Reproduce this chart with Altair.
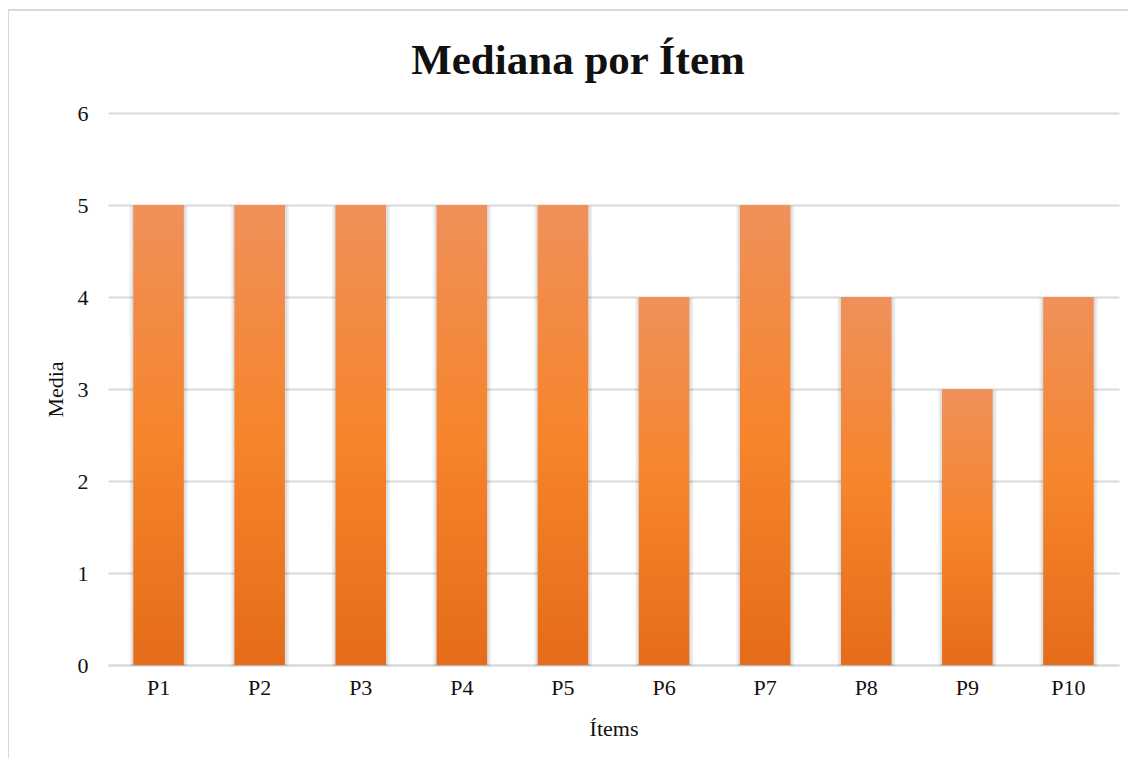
import altair as alt
import pandas as pd

title_text = "Mediana por Ítem"
items = ["P1", "P2", "P3", "P4", "P5", "P6", "P7", "P8", "P9", "P10"]
medians = [5, 5, 5, 5, 5, 4, 5, 4, 3, 4]
y_ticks = [0, 1, 2, 3, 4, 5, 6]

df = pd.DataFrame({"item": items, "mediana": medians})

W, H = 1011, 552
FONT = "Liberation Serif"

grad = alt.Gradient(
    gradient="linear", x1=0, y1=0, x2=0, y2=1,
    stops=[
        alt.GradientStop(offset=0, color="#F0905A"),
        alt.GradientStop(offset=0.5, color="#F6852C"),
        alt.GradientStop(offset=1, color="#E56C1A"),
    ],
)

x_enc = alt.X("item:N", sort=items, title="Ítems",
              scale=alt.Scale(paddingInner=0.5, paddingOuter=0.25),
              axis=alt.Axis(labelAngle=0, ticks=False, domainColor="#d9d9d9",
                            domainWidth=2, labelPadding=12, titlePadding=20))
y_enc = alt.Y("mediana:Q", title="Media",
              scale=alt.Scale(domain=[0, 6]),
              axis=alt.Axis(values=y_ticks, ticks=False, domain=False,
                            gridColor="#d9d9d9", gridWidth=2, labelPadding=20,
                            titlePadding=10))

shadow_l = alt.Chart(df).mark_bar(color="#000000", opacity=0.06, xOffset=-1, yOffset=1,
                                   size=56).encode(x=x_enc, y=y_enc)
shadow = alt.Chart(df).mark_bar(color="#000000", opacity=0.08, xOffset=1, yOffset=1,
                                 size=56).encode(x=x_enc, y=y_enc)
bars = alt.Chart(df).mark_bar(color=grad).encode(x=x_enc, y=y_enc)

border = alt.Chart(df).mark_rect(fill=None, stroke="#d9d9d9", strokeWidth=2).encode(
    x=alt.value(-100), x2=alt.value(1060), y=alt.value(-103), y2=alt.value(700)
)

title = alt.Chart(pd.DataFrame({"t": [title_text]})).mark_text(
    font=FONT, fontSize=43, fontWeight="bold", color="#111111",
    align="center", baseline="middle"
).encode(text="t:N", x=alt.value(470), y=alt.value(-52))

chart = (
    alt.layer(border, shadow_l, shadow, bars, title)
    .properties(
        width=W, height=H,
        padding={"left": 100, "top": 105, "right": 9, "bottom": 93},
        autosize=alt.AutoSizeParams(type="none"),
        background="white",
    )
    .configure_view(stroke=None)
    .configure_axis(labelFont=FONT, titleFont=FONT, labelFontSize=22, titleFontSize=22,
                    labelColor="#111111", titleColor="#111111", titleFontWeight="normal")
)

chart.save("out.html", embed_options={"renderer": "svg", "actions": False})
